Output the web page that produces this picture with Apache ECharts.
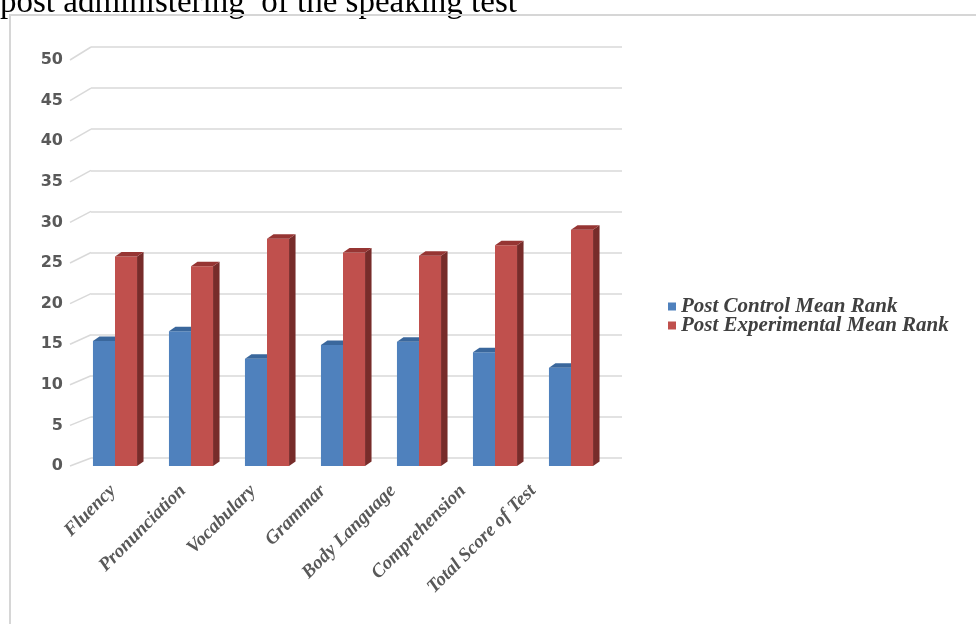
<!DOCTYPE html>
<html><head><meta charset="utf-8">
<script src="https://cdn.jsdelivr.net/npm/echarts/dist/echarts.min.js"></script>
<style>html,body{margin:0;padding:0;background:#fff}#c{width:976px;height:624px}</style>
</head><body><div id="c"></div>
<script>
const titleText = 'post administering  of the speaking test';
const categories = ['Fluency','Pronunciation','Vocabulary','Grammar','Body Language','Comprehension','Total Score of Test'];
const seriesNames = ['Post Control Mean Rank','Post Experimental Mean Rank'];
const controlValues = [15.4, 16.6, 13.2, 14.9, 15.3, 14.0, 12.1];
const experimentalValues = [25.8, 24.6, 28.0, 26.3, 25.9, 27.2, 29.1];
const yMin = 0, yMax = 50, yStep = 5;
const yTicks = [0,5,10,15,20,25,30,35,40,45,50];

const palette = [
  {front:'#4f81bd', top:'#3a679c', side:'#2f5480'},
  {front:'#c0504d', top:'#963533', side:'#772c2a'}
];

function bar3d(sideIdx, colors){
  return function(params, api){
    const ci = api.value(0), v = api.value(1);
    const base = api.coord([ci, 0]);
    const top = api.coord([ci, v]);
    const bw = api.size([1, 0])[0] * 0.29;
    const x0 = sideIdx === 0 ? base[0] - bw : base[0];
    const x1 = x0 + bw;
    const dx = 6.5, dy = 4.5;
    return {type:'group', children:[
      {type:'polygon', shape:{points:[[x1,top[1]],[x1+dx,top[1]-dy],[x1+dx,base[1]-dy],[x1,base[1]]]}, style:{fill:colors.side}},
      {type:'rect', shape:{x:x0, y:top[1], width:bw, height:base[1]-top[1]}, style:{fill:colors.front}},
      {type:'polygon', shape:{points:[[x0,top[1]],[x1,top[1]],[x1+dx,top[1]-dy],[x0+dx,top[1]-dy]]}, style:{fill:colors.top}}
    ]};
  };
}

const chart = echarts.init(document.getElementById('c'), null, {renderer:'canvas'});
const frontLeft = 77;
const baseGraphics = [
  {type:'text', id:'title', x:0, y:3, style:{text:titleText, fill:'#000', font:'33px "Liberation Serif"', verticalAlign:'middle', align:'left'}},
  {type:'polyline', id:'border', shape:{points:[[976,15],[10,15],[10,624]]}, style:{stroke:'#d6d6d6', lineWidth:2, fill:null}}
];
chart.setOption({
  animation:false,
  backgroundColor:'#fff',
  graphic: baseGraphics,
  grid:[
    {left:frontLeft, right:367, top:60, bottom:158},
    {left:91, right:354, top:47, bottom:166},
    {left:78, right:408, top:60, bottom:158}
  ],
  xAxis:[
    {type:'category', gridIndex:0, data:categories, axisLine:{show:false}, axisTick:{show:false}, axisLabel:{show:false}},
    {type:'value', gridIndex:1, min:0, max:1, show:false},
    {type:'category', gridIndex:2, data:categories, axisLine:{show:false}, axisTick:{show:false},
     axisLabel:{interval:0, rotate:45, margin:22, fontFamily:'Liberation Serif', fontStyle:'italic', fontWeight:'bold', fontSize:19, color:'#595959'}}
  ],
  yAxis:[
    {type:'value', gridIndex:0, min:yMin, max:yMax, interval:yStep, splitLine:{show:false}, axisLine:{show:false}, axisTick:{show:false},
     axisLabel:{margin:14, fontFamily:'DejaVu Sans', fontWeight:'bold', fontSize:16, color:'#595959'}},
    {type:'value', gridIndex:1, min:yMin, max:yMax, interval:yStep, axisLabel:{show:false}, axisLine:{show:false}, axisTick:{show:false},
     splitLine:{show:true, lineStyle:{color:'#d9d9d9', width:1.5}}},
    {type:'value', gridIndex:2, min:yMin, max:yMax, show:false}
  ],
  legend:{
    orient:'vertical', left:663, top:291, itemWidth:8, itemHeight:8, itemGap:-2,
    data:seriesNames.map(n=>({name:n, icon:'rect'})),
    textStyle:{fontFamily:'Liberation Serif', fontStyle:'italic', fontWeight:'bold', fontSize:21, color:'#404040', lineHeight:18}
  },
  series:[
    {type:'custom', name:seriesNames[0], xAxisIndex:0, yAxisIndex:0, itemStyle:{color:palette[0].front},
     renderItem:bar3d(0, palette[0]), data:categories.map((c,i)=>[i, controlValues[i]]), encode:{x:0, y:1}, z:3},
    {type:'custom', name:seriesNames[1], xAxisIndex:0, yAxisIndex:0, itemStyle:{color:palette[1].front},
     renderItem:bar3d(1, palette[1]), data:categories.map((c,i)=>[i, experimentalValues[i]]), encode:{x:0, y:1}, z:4}
  ]
});

// diagonal wall-to-floor connector lines for each tick, from library conversions
const backX = chart.convertToPixel({xAxisIndex:1}, 0);
const diag = yTicks.map((v, k) => {
  const fy = chart.convertToPixel({yAxisIndex:0}, v);
  const by = chart.convertToPixel({yAxisIndex:1}, v);
  return {type:'line', id:'diag'+k, shape:{x1:frontLeft-7, y1:fy, x2:backX, y2:by}, style:{stroke:'#d9d9d9', lineWidth:1.5}};
});
chart.setOption({graphic: baseGraphics.concat(diag)});
</script></body></html>
